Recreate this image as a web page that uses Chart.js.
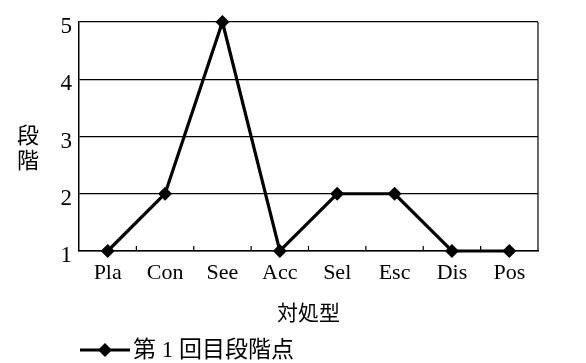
<!DOCTYPE html>
<html>
<head>
<meta charset="utf-8">
<script src="https://cdn.jsdelivr.net/npm/chart.js@4"></script>
<style>
  html, body { margin: 0; padding: 0; background: #fff; }
  canvas { display: block; }
</style>
</head>
<body>
<canvas id="c" width="586" height="363"></canvas>
<script>
// Coping types on the x axis and the stage score for each
const categories = ['Pla', 'Con', 'See', 'Acc', 'Sel', 'Esc', 'Dis', 'Pos'];
const stageScores = [1, 2, 5, 1, 2, 2, 1, 1];
const yTicks = [1, 2, 3, 4, 5];
const seriesLabel = '第 1 回目段階点';
const xTitle = '対処型';
const yTitleChars = ['段', '階'];

const SERIF = '"Liberation Serif", "Noto Sans CJK JP", serif';
const INK = '#000';

// Short inward tick marks on the category boundaries, the right frame edge,
// the stacked y title and the line+diamond legend row.
const decorations = {
  id: 'decorations',
  afterDraw(chart) {
    const { ctx, chartArea: a, scales: { x } } = chart;
    ctx.save();
    ctx.strokeStyle = INK;
    ctx.lineWidth = 1.2;
    for (let i = 0; i < categories.length - 1; i++) {
      const px = (x.getPixelForValue(i) + x.getPixelForValue(i + 1)) / 2;
      ctx.beginPath();
      ctx.moveTo(px, a.bottom);
      ctx.lineTo(px, a.bottom - 5);
      ctx.stroke();
    }
    ctx.beginPath();
    ctx.moveTo(a.right, a.top);
    ctx.lineTo(a.right, a.bottom);
    ctx.stroke();

    ctx.fillStyle = INK;
    ctx.font = '22px ' + SERIF;
    ctx.textAlign = 'center';
    ctx.textBaseline = 'middle';
    yTitleChars.forEach((ch, i) => ctx.fillText(ch, 28, 137 + i * 25));

    // legend row
    const ds = chart.data.datasets[0];
    const ly = 350, lx0 = a.left + 1, lx1 = a.left + 51;
    ctx.lineWidth = ds.borderWidth;
    ctx.beginPath();
    ctx.moveTo(lx0, ly);
    ctx.lineTo(lx1, ly);
    ctx.stroke();
    const r = ds.pointRadius;
    const cx = (lx0 + lx1) / 2;
    ctx.beginPath();
    ctx.moveTo(cx, ly - r);
    ctx.lineTo(cx + r, ly);
    ctx.lineTo(cx, ly + r);
    ctx.lineTo(cx - r, ly);
    ctx.closePath();
    ctx.fill();
    ctx.font = '23px ' + SERIF;
    ctx.textAlign = 'left';
    ctx.fillText(ds.label, lx1 + 3, ly + 1);
    ctx.restore();
  }
};

new Chart(document.getElementById('c'), {
  type: 'line',
  data: {
    labels: categories,
    datasets: [{
      label: seriesLabel,
      data: stageScores,
      borderColor: INK,
      backgroundColor: INK,
      borderWidth: 3.2,
      pointStyle: 'rectRot',
      pointRadius: 7,
      pointHoverRadius: 7,
      pointBorderWidth: 0,
      tension: 0,
      clip: false
    }]
  },
  options: {
    responsive: false,
    animation: false,
    events: [],
    layout: { padding: { left: 0, right: 48, top: 22, bottom: 30 } },
    plugins: {
      legend: { display: false },
      tooltip: { enabled: false }
    },
    scales: {
      x: {
        offset: true,
        grid: { display: false, drawTicks: false },
        border: { display: true, color: INK, width: 1.5 },
        ticks: {
          color: INK,
          padding: 9,
          font: { family: SERIF, size: 22 },
          maxRotation: 0,
          autoSkip: false
        },
        title: {
          display: true,
          text: xTitle,
          color: INK,
          font: { family: SERIF, size: 21 },
          padding: { top: 0, bottom: 6 }
        },
        afterFit(scale) { scale.height = 82; }
      },
      y: {
        min: yTicks[0],
        max: yTicks[yTicks.length - 1],
        afterBuildTicks(scale) { scale.ticks = yTicks.map(v => ({ value: v })); },
        grid: { color: INK, lineWidth: 1.2, drawTicks: false },
        border: { display: true, color: INK, width: 1.5 },
        ticks: {
          color: INK,
          padding: 7,
          labelOffset: 5,
          font: { family: SERIF, size: 23 }
        },
        afterFit(scale) { scale.width = 79; }
      }
    }
  },
  plugins: [decorations]
});
</script>
</body>
</html>
